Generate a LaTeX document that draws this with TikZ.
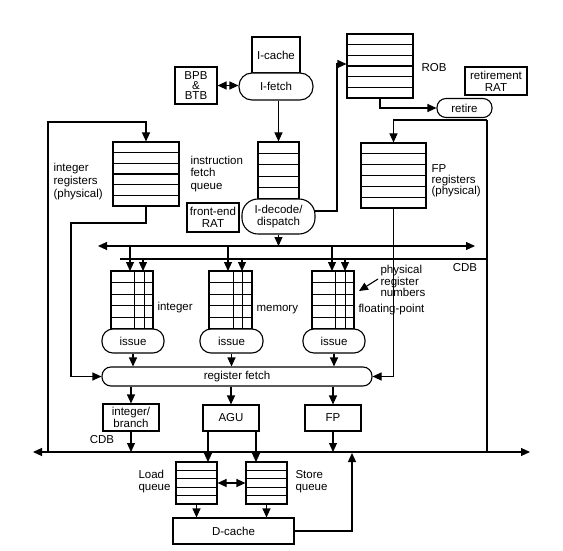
\documentclass[tikz,border=0pt]{standalone}
\usepackage{fontspec}
\setmainfont{Liberation Sans}
\usetikzlibrary{arrows.meta,calc}
\newcommand\qrows[2]{%
  \pgfmathtruncatemacro\qn{#2-1}%
  \foreach \i in {1,...,\qn}{\draw ($(#1.north west)!{\i/#2}!(#1.south west)$) -- ($(#1.north east)!{\i/#2}!(#1.south east)$);}}
\newcommand\qcols[1]{%
  \foreach \f in {0.56,0.78}{\draw ($(#1.north west)!\f!(#1.north east)$) -- ($(#1.south west)!\f!(#1.south east)$);}}
\begin{document}
\begin{tikzpicture}[x=1pt,y=-1pt,
  line width=1.1pt,
  font=\fontsize{11.5}{13}\selectfont,
  box/.style={draw, rectangle, inner sep=0pt, align=center},
  pill/.style={draw, rectangle, rounded corners=#1, inner sep=0pt, align=center},
  pill/.default=9pt,
  arr/.style={-{Triangle[length=9pt,width=8pt]}},
  darr/.style={{Triangle[length=9pt,width=8pt]}-{Triangle[length=9pt,width=8pt]}},
  lbl/.style={inner sep=0pt, align=left}
]
\useasboundingbox (0,0) rectangle (563,551);

% front end
\node[box, minimum width=48pt, minimum height=36pt] (icache) at (276,55) {I-cache};
\node[pill=13pt, fill=white, minimum width=74pt, minimum height=27pt] (ifetch) at (276,86.5) {I-fetch};
\node[box, minimum width=42pt, minimum height=37pt, font=\fontsize{11.5}{10}\selectfont] (bpb) at (196,85.5) {BPB\\\&\\BTB};
\node[box, minimum width=66pt, minimum height=64pt] (rob) at (380,66) {};
\node[box, minimum width=62pt, minimum height=28pt, font=\fontsize{11.5}{12}\selectfont] (rrat) at (496,81) {retirement\\RAT};
\node[pill, minimum width=55pt, minimum height=19pt] (retire) at (464.5,108) {retire};
\node[box, minimum width=66pt, minimum height=64pt] (intreg) at (146,174) {};
\node[box, minimum width=41pt, minimum height=57pt] (ifq) at (278.5,170.5) {};
\node[box, minimum width=52pt, minimum height=29pt, font=\fontsize{11.5}{12}\selectfont] (fert) at (213,217.5) {front-end\\RAT};
\node[pill=16pt, fill=white, minimum width=73pt, minimum height=35pt, font=\fontsize{11.5}{12}\selectfont] (decode) at (278.5,216.5) {I-decode/\\dispatch};
\node[box, minimum width=65pt, minimum height=65pt] (fpreg) at (393.5,175.5) {};
\qrows{rob}{6}
\qrows{intreg}{6}
\qrows{ifq}{5}
\qrows{fpreg}{6}

% issue queues
\node[box, minimum width=42pt, minimum height=58pt] (intq) at (132,300) {};
\node[box, minimum width=43pt, minimum height=58pt] (memq) at (230.5,300) {};
\node[box, minimum width=42pt, minimum height=58pt] (fpq) at (333,300) {};
\foreach \q in {intq,memq,fpq}{\qrows{\q}{5}\qcols{\q}}
\node[pill=11pt, fill=white, minimum width=62pt, minimum height=24pt] (issue1) at (133,341) {issue};
\node[pill=11pt, fill=white, minimum width=63pt, minimum height=24pt] (issue2) at (231.5,341) {issue};
\node[pill=11pt, fill=white, minimum width=62pt, minimum height=24pt] (issue3) at (334,341) {issue};

\node[pill, minimum width=270pt, minimum height=19pt] (regfetch) at (237,376.5) {register fetch};
\node[box, minimum width=56pt, minimum height=27pt, font=\fontsize{11.5}{10}\selectfont] (intbr) at (131,417.5) {integer/\\branch};
\node[box, minimum width=56pt, minimum height=26pt] (agu) at (231,418) {AGU};
\node[box, minimum width=56pt, minimum height=26pt] (fpu) at (333,418) {FP};
\node[box, minimum width=41pt, minimum height=42pt] (loadq) at (196.5,483) {};
\node[box, minimum width=41pt, minimum height=42pt] (storeq) at (266.5,483) {};
\qrows{loadq}{5}
\qrows{storeq}{5}
\node[box, minimum width=121pt, minimum height=26pt] (dcache) at (233.5,531) {D-cache};

% buses
\coordinate (b1l) at (98,246);
\coordinate (b1r) at (475,246);
\coordinate (c1l) at (120,259);
\coordinate (c1r) at (487,259);
\coordinate (rtop) at (487,120);
\coordinate (rbot) at (487,452);
\coordinate (c2l) at (33,452);
\coordinate (c2r) at (530,452);
\coordinate (lbot) at (48,452);
\coordinate (ltop) at (48,122);
\draw[darr] (b1l) -- (b1r);
\draw (c1l) -- (c1r);
\draw (rbot) -- (rtop);
\draw[darr] (c2l) -- (c2r);

% connectors
\draw[darr] (bpb.east) -- (bpb.east -| ifetch.west);
\draw[arr] (ifetch.south -| ifq.north) -- (ifq.north);
\draw[arr] (314,211) -- (337,211) -- (337,64) -- (rob.west |- 0,64);
\draw[arr] (decode.south) -- (decode.south |- b1l);
\draw[arr] (rob.south) |- (retire.west);
\draw[arr] (rtop) -| (fpreg.north);
\draw[arr] (lbot) -- (ltop) -| (intreg.north);
\draw[arr] (intreg.south) -- (146,223) -- (71,223) |- (regfetch.west);
\draw[arr] (fpreg.south) |- (regfetch.east);
\foreach \a/\b in {130/143, 228/242, 332/345}{
  \draw[arr] (\a,246) -- (\a,271);
  \draw[arr] (\b,259) -- (\b,271);
}
\foreach \n in {issue1,issue2,issue3}{\draw[arr] (\n.south) -- (\n.south |- regfetch.north);}
\foreach \n in {intbr,agu,fpu}{\draw[arr] (\n.north |- regfetch.south) -- (\n.north);}
\draw[arr] (intbr.south) -- (intbr.south |- c2l);
\draw[arr] (fpu.south) -- (fpu.south |- c2l);
\draw[arr] (208,431) -- (208,462);
\draw[arr] (256,431) -- (256,462);
\draw[darr] (loadq.east) -- (storeq.west);
\draw[arr] (loadq.south) -- (loadq.south |- dcache.north);
\draw[arr] (storeq.south) -- (storeq.south |- dcache.north);
\draw[arr] (dcache.east) -| (352,453);

% labels
\node[lbl, anchor=west] (robl) at (421,68) {ROB};
\node[lbl, anchor=west] (intregl) at (53,182) {integer\\registers\\(physical)};
\node[lbl, anchor=west, font=\fontsize{11.5}{12.5}\selectfont] (ifql) at (190,174) {instruction\\fetch\\queue};
\node[lbl, anchor=west, font=\fontsize{11.5}{11}\selectfont] (fpregl) at (431,181) {FP\\registers\\(physical)};
\node[lbl] (cdb1l) at (465,268) {CDB};
\node[lbl] (cdb2l) at (102,440) {CDB};
\node[lbl, anchor=west] (intql) at (157,308) {integer};
\node[lbl, anchor=west] (memql) at (256,310) {memory};
\node[lbl, anchor=west] (fpql) at (358,310) {floating-point};
\node[lbl, anchor=west, font=\fontsize{11.5}{9.5}\selectfont] (prn) at (380,281) {physical\\register\\numbers};
\coordinate (prnt) at (359,291);
\draw[arr] (378,279) -- (prnt);
\node[lbl, anchor=west, font=\fontsize{11.5}{12}\selectfont] (lql) at (138,482) {Load\\queue};
\node[lbl, anchor=west, font=\fontsize{11.5}{12}\selectfont] (sql) at (295,482) {Store\\queue};
\end{tikzpicture}
\end{document}
